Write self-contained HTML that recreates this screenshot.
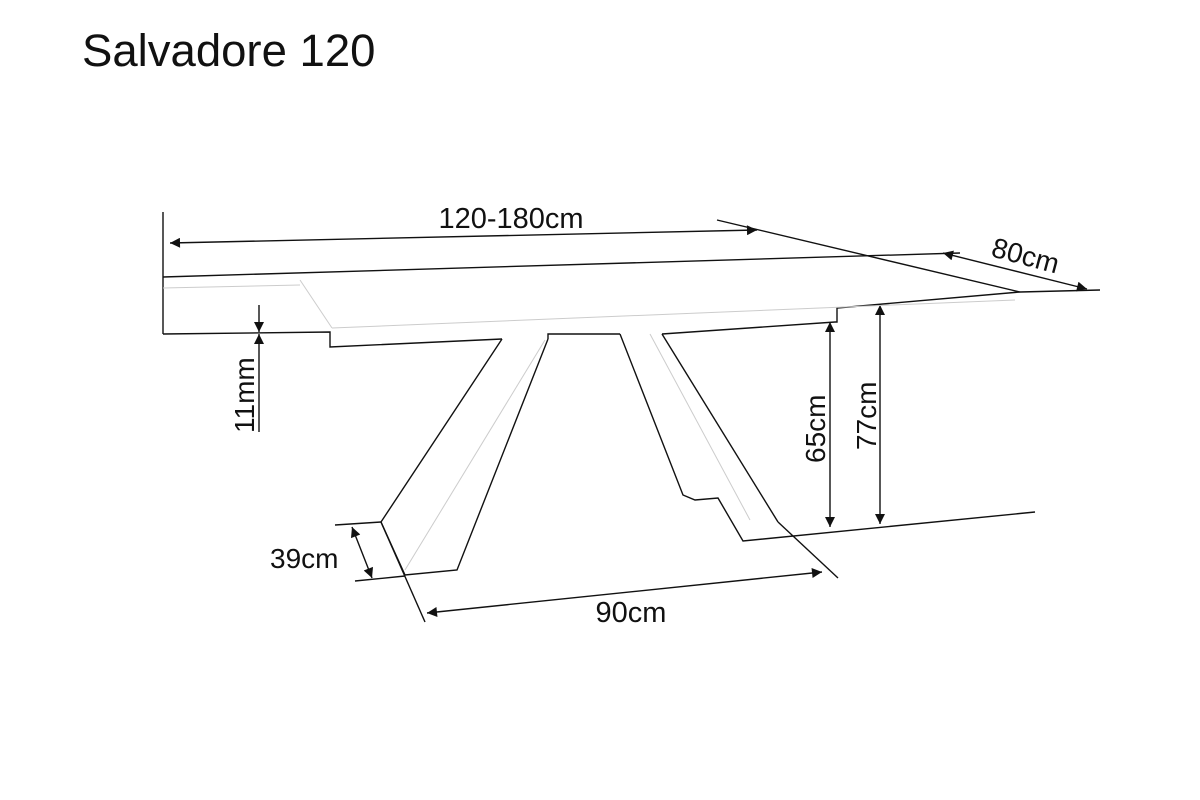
<!DOCTYPE html>
<html><head><style>
html,body{margin:0;padding:0;background:#fff;}
svg{display:block;}
text{font-family:"Liberation Sans",Arial,sans-serif;fill:#111;}
</style></head><body>
<svg width="1200" height="800" viewBox="0 0 1200 800" xmlns="http://www.w3.org/2000/svg">
<defs>
<marker id="a" viewBox="0 0 10 10" refX="10" refY="5" markerWidth="12" markerHeight="10" markerUnits="userSpaceOnUse" orient="auto-start-reverse">
<path d="M0,0 L10,5 L0,10 z" fill="#111"/></marker>
</defs>
<text x="82" y="66" font-size="45.5">Salvadore 120</text>
<g stroke="#111" stroke-width="1.4" fill="none">
<line x1="163" y1="212" x2="163" y2="334"/>
<line x1="163" y1="277" x2="960" y2="253"/>
<polyline points="163,334 330,332 330,347 502,339"/>
<polyline points="548,339 548,334 620,334"/>
<polyline points="662,334 835,322 837,322 837,308 1020,292"/>
<line x1="717" y1="220" x2="1020" y2="292"/>
<line x1="1020" y1="292" x2="1100" y2="290"/>
<polyline points="502,339 381,522 405,575 457,570 548,339"/>
<polyline points="620,334 683,495 695,500 718,498 743,541 1035,512"/>
<line x1="662" y1="334" x2="778" y2="522"/>
<line x1="778" y1="522" x2="838" y2="578"/>
<line x1="170" y1="243" x2="757" y2="230" marker-start="url(#a)" marker-end="url(#a)"/>
<line x1="943" y1="253" x2="1087" y2="289" marker-start="url(#a)" marker-end="url(#a)"/>
<line x1="830" y1="322" x2="830" y2="527" marker-start="url(#a)" marker-end="url(#a)"/>
<line x1="880" y1="305" x2="880" y2="524" marker-start="url(#a)" marker-end="url(#a)"/>
<line x1="259" y1="305" x2="259" y2="332" marker-end="url(#a)"/>
<line x1="259" y1="432" x2="259" y2="334" marker-end="url(#a)"/>
<line x1="335" y1="525" x2="381" y2="522"/>
<line x1="355" y1="581" x2="405" y2="576"/>
<line x1="352" y1="527" x2="372" y2="578" marker-start="url(#a)" marker-end="url(#a)"/>
<line x1="381" y1="522" x2="425" y2="622"/>
<line x1="427" y1="613" x2="822" y2="572" marker-start="url(#a)" marker-end="url(#a)"/>
</g>
<g stroke="#ccc" stroke-width="1" fill="none">
<line x1="300" y1="280" x2="332" y2="328"/>
<line x1="163" y1="288" x2="300" y2="285"/>
<line x1="332" y1="328" x2="1015" y2="300"/>
<line x1="545" y1="340" x2="405" y2="570"/>
<line x1="650" y1="334" x2="750" y2="520"/>
</g>
<text x="511" y="228" font-size="29" text-anchor="middle">120-180cm</text>
<text x="0" y="0" font-size="28" transform="translate(990,256) rotate(15)">80cm</text>
<text x="0" y="0" font-size="28" transform="translate(825,463) rotate(-90)">65cm</text>
<text x="0" y="0" font-size="28" transform="translate(876,450) rotate(-90)">77cm</text>
<text x="0" y="0" font-size="28" transform="translate(254,433) rotate(-90)">11mm</text>
<text x="270" y="568" font-size="28">39cm</text>
<text x="631" y="622" font-size="29" text-anchor="middle">90cm</text>
</svg>
</body></html>
